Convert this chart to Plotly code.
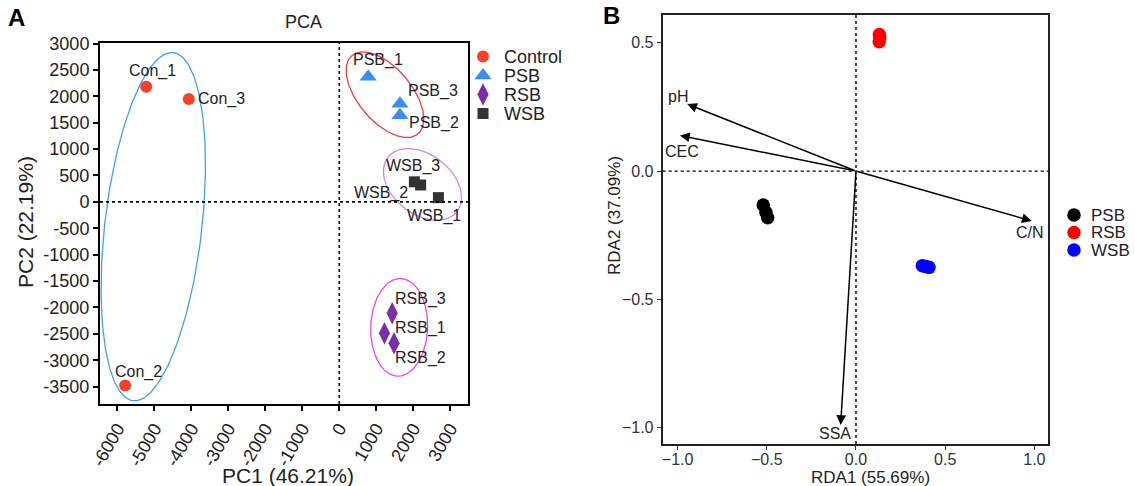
import numpy as np
import plotly.graph_objects as go

# ---------------- Panel A data (PCA) ----------------
groupsA = ["Control", "PSB", "RSB", "WSB"]
ctrl_names = ["Con_1", "Con_2", "Con_3"]
ctrl_x = [-5220, -5790, -4070]
ctrl_y = [2180, -3480, 1950]
psb_names = ["PSB_1", "PSB_2", "PSB_3"]
psb_x = [780, 1640, 1640]
psb_y = [2370, 1640, 1860]
rsb_names = ["RSB_1", "RSB_2", "RSB_3"]
rsb_x = [1220, 1480, 1430]
rsb_y = [-2490, -2680, -2110]
wsb_names = ["WSB_1", "WSB_2", "WSB_3"]
wsb_x = [2680, 2200, 2030]
wsb_y = [80, 320, 380]
pca_xticks = [-6000, -5000, -4000, -3000, -2000, -1000, 0, 1000, 2000, 3000]
pca_yticks = [3000, 2500, 2000, 1500, 1000, 500, 0, -500, -1000, -1500, -2000, -2500, -3000, -3500]
# ellipses: center, conjugate semi-axis vectors (data units)
ell_ctrl = dict(c=(-5030, -470), u=(500, 3300), v=(1320, 0))
ell_psb = dict(c=(1235, 2030), u=(-595, 811), v=(865, 0))
ell_rsb = dict(c=(1619, -2377), u=(30, 925), v=(770, 0))
ell_wsb = dict(c=(2249, 331), u=(-384, 680), v=(986, 0))

# ---------------- Panel B data (RDA) ----------------
groupsB = ["PSB", "RSB", "WSB"]
rda_psb_x = [-0.52, -0.495, -0.505]
rda_psb_y = [-0.132, -0.182, -0.16]
rda_rsb_x = [0.131, 0.133, 0.13]
rda_rsb_y = [0.532, 0.52, 0.504]
rda_wsb_x = [0.372, 0.39, 0.409]
rda_wsb_y = [-0.369, -0.372, -0.375]
env_names = ["pH", "CEC", "C/N", "SSA"]
env_x = [-0.946, -0.987, 0.985, -0.086]
env_y = [0.261, 0.139, -0.194, -0.989]
rda_xticks = [-1.0, -0.5, 0.0, 0.5, 1.0]
rda_yticks = [-1.0, -0.5, 0.0, 0.5]

FONT = "Liberation Sans, Arial, sans-serif"
W, H = 1135, 486


def px(xp):
    return xp / W


def py(yp):
    return 1 - yp / H


fig = go.Figure()


def ellipse(e):
    t = np.linspace(0, 2 * np.pi, 240)
    cx, cy = e["c"]
    ux, uy = e["u"]
    vx, vy = e["v"]
    return cx + ux * np.cos(t) + vx * np.sin(t), cy + uy * np.cos(t) + vy * np.sin(t)


for e, col in [(ell_ctrl, "#3FA0F2"), (ell_psb, "#EE3B3B"), (ell_rsb, "#F044E6"), (ell_wsb, "#C58AF0")]:
    ex, ey = ellipse(e)
    fig.add_trace(go.Scatter(x=ex, y=ey, mode="lines", line=dict(color=col, width=1.3),
                             showlegend=False, hoverinfo="skip", xaxis="x", yaxis="y"))

styleA = {
    "Control": dict(symbol="circle", size=12, color="#F5402C"),
    "PSB": dict(symbol="triangle-up", size=15, color="#3A8EF2"),
    "RSB": dict(symbol="diamond-tall", size=16, color="#7A2EA8"),
    "WSB": dict(symbol="square", size=11, color="#333333"),
}
for g, xs, ys in [("Control", ctrl_x, ctrl_y), ("PSB", psb_x, psb_y), ("RSB", rsb_x, rsb_y), ("WSB", wsb_x, wsb_y)]:
    fig.add_trace(go.Scatter(x=xs, y=ys, mode="markers", name=g, marker=styleA[g],
                             showlegend=False, xaxis="x", yaxis="y"))

styleB = {"PSB": "black", "RSB": "#FF0000", "WSB": "#0000FF"}
for g, xs, ys in [("PSB", rda_psb_x, rda_psb_y), ("RSB", rda_rsb_x, rda_rsb_y), ("WSB", rda_wsb_x, rda_wsb_y)]:
    fig.add_trace(go.Scatter(x=xs, y=ys, mode="markers", name=g, showlegend=False,
                             marker=dict(size=13.5, color=styleB[g]), xaxis="x2", yaxis="y2"))

# manual legends on a hidden full-figure pixel axis
legA_x, legA_y0, legA_dy = 483, 56.5, 19
legB_x, legB_y0, legB_dy = 1074, 215, 17.5
for i, g in enumerate(groupsA):
    fig.add_trace(go.Scatter(x=[legA_x], y=[legA_y0 + i * legA_dy], mode="markers", marker=styleA[g],
                             showlegend=False, hoverinfo="skip", xaxis="x3", yaxis="y3"))
for i, g in enumerate(groupsB):
    fig.add_trace(go.Scatter(x=[legB_x], y=[legB_y0 + i * legB_dy], mode="markers",
                             marker=dict(size=13.5, color=styleB[g]),
                             showlegend=False, hoverinfo="skip", xaxis="x3", yaxis="y3"))

ann = []
for i, g in enumerate(groupsA):
    ann.append(dict(x=legA_x + 19, y=legA_y0 + i * legA_dy, xref="x3", yref="y3", text=g, showarrow=False,
                    xanchor="left", yanchor="middle", font=dict(family=FONT, size=18, color="#222")))
for i, g in enumerate(groupsB):
    ann.append(dict(x=legB_x + 15, y=legB_y0 + i * legB_dy, xref="x3", yref="y3", text=g, showarrow=False,
                    xanchor="left", yanchor="middle", font=dict(family=FONT, size=17, color="#222")))

# point labels panel A
lab_off = {
    "Con_1": ("center", 6, 16), "Con_2": ("center", 13, 14), "Con_3": ("left", 7, 0),
    "PSB_1": ("center", 10, 17), "PSB_2": ("left", 7, -8), "PSB_3": ("left", 6, 13),
    "RSB_1": ("left", 9, 5), "RSB_2": ("left", -1, -15), "RSB_3": ("left", 1, 14),
    "WSB_1": ("left", -33, -18), "WSB_2": ("right", -11, -8), "WSB_3": ("center", -1, 16),
}
for names, xs, ys in [(ctrl_names, ctrl_x, ctrl_y), (psb_names, psb_x, psb_y),
                      (rsb_names, rsb_x, rsb_y), (wsb_names, wsb_x, wsb_y)]:
    for n, x, y in zip(names, xs, ys):
        xa, xs_, ys_ = lab_off[n]
        ann.append(dict(x=x, y=y, xref="x", yref="y", text=n, showarrow=False, xanchor=xa, yanchor="middle",
                        xshift=xs_, yshift=ys_, font=dict(family=FONT, size=16, color="#222")))

# arrows panel B
env_off = {"pH": (-9, 8), "CEC": (2, -16), "C/N": (-2, -12), "SSA": (-6, -8)}
for n, x, y in zip(env_names, env_x, env_y):
    ann.append(dict(x=x, y=y, xref="x2", yref="y2", ax=0, ay=0, axref="x2", ayref="y2",
                    text="", showarrow=True, arrowhead=2, arrowsize=1.3, arrowwidth=1.5, arrowcolor="black"))
    dx, dy = env_off[n]
    ann.append(dict(x=x, y=y, xref="x2", yref="y2", text=n, showarrow=False, xshift=dx, yshift=dy,
                    xanchor="center", yanchor="middle", font=dict(family=FONT, size=16, color="#222")))


def pann(x, y, text, size, angle=0, bold=False, color="#222"):
    return dict(x=px(x), y=py(y), xref="paper", yref="paper", text=f"<b>{text}</b>" if bold else text,
                showarrow=False, xanchor="center", yanchor="middle", textangle=angle,
                font=dict(family=FONT, size=size, color=color))


ann += [
    pann(16, 17, "A", 24, bold=True, color="black"),
    pann(611, 16, "B", 24, bold=True, color="black"),
    pann(303, 22, "PCA", 18),
    pann(288, 475, "PC1 (46.21%)", 21),
    pann(25, 222, "PC2 (22.19%)", 21, angle=-90),
    pann(870, 477, "RDA1 (55.69%)", 17),
    pann(614, 216, "RDA2 (37.09%)", 17, angle=-90),
]

shapes = [
    dict(type="line", xref="x", yref="y domain", x0=0, x1=0, y0=0, y1=1, line=dict(color="black", width=1.6, dash="dot")),
    dict(type="line", xref="x domain", yref="y", x0=0, x1=1, y0=0, y1=0, line=dict(color="black", width=1.6, dash="dot")),
    dict(type="line", xref="x2", yref="y2 domain", x0=0, x1=0, y0=0, y1=1, line=dict(color="black", width=1.4, dash="3px,3px")),
    dict(type="line", xref="x2 domain", yref="y2", x0=0, x1=1, y0=0, y1=0, line=dict(color="black", width=1.4, dash="3px,3px")),
]

axA = dict(showline=True, linecolor="black", linewidth=2, mirror=True, ticks="outside", ticklen=5,
           tickwidth=1.5, tickcolor="black", showgrid=False, zeroline=False, automargin=False,
           tickfont=dict(family=FONT, size=18, color="#222"), fixedrange=True)
axB = dict(showline=True, linecolor="#222", linewidth=2, mirror=True, ticks="outside", ticklen=4,
           tickwidth=1.3, tickcolor="#333", showgrid=False, zeroline=False, automargin=False,
           tickfont=dict(family=FONT, size=16, color="#333"), fixedrange=True)

fig.update_layout(
    width=W, height=H, margin=dict(l=0, r=0, t=0, b=0),
    paper_bgcolor="white", plot_bgcolor="rgba(0,0,0,0)",
    font=dict(family=FONT), showlegend=False,
    xaxis=dict(axA, domain=[px(100), px(468)], range=[-6470, 3480], tickvals=pca_xticks,
               ticktext=[str(v) for v in pca_xticks], tickangle=-60, anchor="y"),
    yaxis=dict(axA, domain=[py(404), py(43)], range=[-3830, 3010], tickvals=pca_yticks,
               ticktext=[str(v) for v in pca_yticks], anchor="x"),
    xaxis2=dict(axB, domain=[px(662.7), px(1048.3)], range=[-1.0835, 1.078], tickvals=rda_xticks,
                ticktext=["\u22121.0", "\u22120.5", "0.0", "0.5", "1.0"], anchor="y2",
                ticklabelstandoff=-4),
    yaxis2=dict(axB, domain=[py(444), py(15)], range=[-1.063, 0.608], tickvals=rda_yticks,
                ticktext=["\u22121.0", "\u22120.5", "0.0", "0.5"], anchor="x2"),
    xaxis3=dict(domain=[0, 1], range=[0, W], visible=False, fixedrange=True, anchor="y3"),
    yaxis3=dict(domain=[0, 1], range=[H, 0], visible=False, fixedrange=True, anchor="x3"),
    annotations=ann, shapes=shapes,
)

fig.write_html("out.html")
